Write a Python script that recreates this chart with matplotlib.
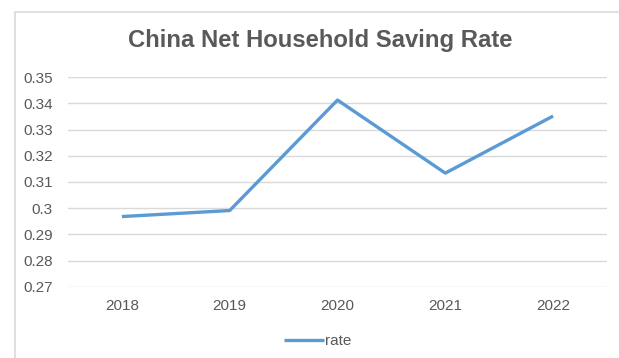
import matplotlib.pyplot as plt
from matplotlib.patches import Rectangle

years = ["2018", "2019", "2020", "2021", "2022"]
rate = [0.2968, 0.2991, 0.3413, 0.3134, 0.3352]
yticks = [0.27, 0.28, 0.29, 0.30, 0.31, 0.32, 0.33, 0.34, 0.35]
ytick_labels = ["0.27", "0.28", "0.29", "0.3", "0.31", "0.32", "0.33", "0.34", "0.35"]

plt.rcParams['font.family'] = ['Liberation Sans', 'DejaVu Sans']
grey = "#595959"
blue = "#5B9BD5"

fig = plt.figure(figsize=(6.19, 3.58), dpi=100)
fig.patch.set_facecolor("white")
# chart frame (cut off at right and bottom in the reference)
fig.add_artist(Rectangle((15 / 619, -0.1), 1.0, 1 - 12 / 358 + 0.1,
                         transform=fig.transFigure, fill=False,
                         edgecolor="#D9D9D9", linewidth=1.2))

ax = fig.add_axes([68 / 619, 1 - 286.7 / 358, (607 - 68) / 619, (286.7 - 77.3) / 358])
x = list(range(len(years)))
ax.plot(x, rate, color=blue, linewidth=2.4, label="rate", solid_capstyle="butt")

ax.set_xlim(-0.5, len(years) - 0.5)
ax.set_ylim(0.27, 0.35)
ax.set_yticks(yticks)
ax.set_yticklabels(ytick_labels)
ax.set_xticks(x)
ax.set_xticklabels(years)
ax.yaxis.grid(True, color="#D9D9D9", linewidth=1)
ax.set_axisbelow(True)
for s in ax.spines.values():
    s.set_visible(False)
ax.tick_params(axis="both", length=0, labelsize=11, colors=grey)
ax.tick_params(axis="x", pad=9)
ax.tick_params(axis="y", pad=11)

fig.text(320 / 619, 1 - 40 / 358, "China Net Household Saving Rate", ha="center", va="center",
         fontsize=17.2, fontweight="bold", color=grey)

ax.legend(loc="center", bbox_to_anchor=(318 / 619, 1 - 341 / 358), bbox_transform=fig.transFigure,
          frameon=False, fontsize=11, labelcolor=grey, handlelength=2.6, handletextpad=0.1)

fig.savefig("out.png", dpi=100)
